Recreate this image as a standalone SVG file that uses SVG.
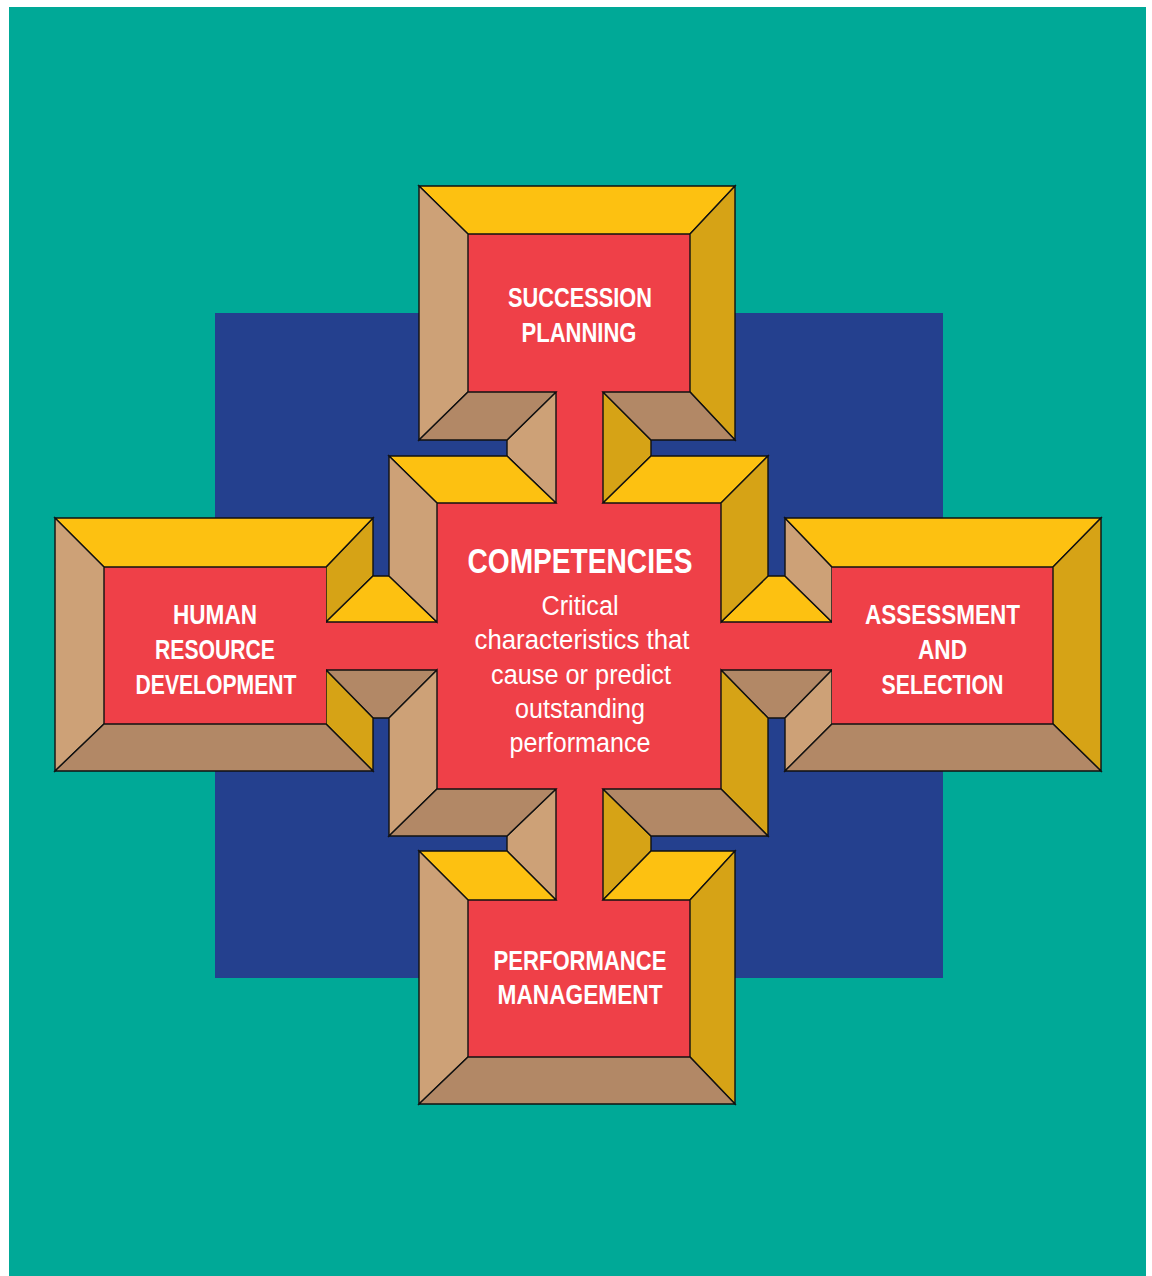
<svg xmlns="http://www.w3.org/2000/svg" width="1152" height="1276" viewBox="0 0 1152 1276">
<style>
.y{fill:#FDC111}
.t{fill:#CDA177}
.g{fill:#D6A316}
.b{fill:#B28866}
.r{fill:#EF4048}
.y,.t,.g,.b{stroke:#111;stroke-width:1.4;stroke-linejoin:miter}
.h{font-family:"Liberation Sans Narrow","Liberation Sans",Arial,sans-serif;font-weight:bold;font-size:28px;fill:#fff;text-anchor:middle}
.big{font-size:35px}
.d{font-family:"Liberation Sans Narrow","Liberation Sans",Arial,sans-serif;font-size:27px;fill:#fff;text-anchor:middle}
</style>
<rect x="9" y="7" width="1137" height="1269" fill="#00A997"/>
<rect x="215" y="313" width="728" height="665" fill="#24408E"/>

<g id="connectors">
  <rect class="r" x="556" y="390" width="47" height="115"/>
  <rect class="r" x="324" y="622" width="115" height="48"/>
  <rect class="r" x="719" y="622" width="115" height="48"/>
  <rect class="r" x="556" y="787" width="47" height="115"/>
  <polygon class="t" points="556,392 556,503 507,456 507,440"/>
  <polygon class="g" points="603,392 651,440 651,456 603,503"/>
  <polygon class="g" points="326,567 373,518 373,576 326,622"/>
  <polygon class="y" points="326,622 373,576 389,576 437,622"/>
  <polygon class="b" points="326,670 437,670 389,718 373,718"/>
  <polygon class="g" points="326,670 373,718 373,771 326,724"/>
  <polygon class="y" points="721,622 768,576 785,576 832,622"/>
  <polygon class="t" points="785,518 832,567 832,622 785,576"/>
  <polygon class="b" points="721,670 832,670 785,718 768,718"/>
  <polygon class="t" points="785,718 832,670 832,724 785,771"/>
  <polygon class="t" points="556,789 556,900 507,851 507,836"/>
  <polygon class="g" points="603,789 651,836 651,851 603,900"/>
</g>

<g id="succession-planning">
  <rect class="r" x="468" y="234" width="222" height="158"/>
  <polygon class="y" points="419,186 735,186 690,234 468,234"/>
  <polygon class="t" points="419,186 468,234 468,392 419,440"/>
  <polygon class="g" points="735,186 735,440 690,392 690,234"/>
  <polygon class="b" points="419,440 468,392 556,392 507,440"/>
  <polygon class="b" points="603,392 690,392 735,440 651,440"/>
  <text class="h" x="580" y="307" textLength="144" lengthAdjust="spacingAndGlyphs">SUCCESSION</text>
  <text class="h" x="579" y="342" textLength="115" lengthAdjust="spacingAndGlyphs">PLANNING</text>
</g>

<g id="competencies">
  <rect class="r" x="437" y="503" width="284" height="286"/>
  <polygon class="y" points="389,456 507,456 556,503 437,503"/>
  <polygon class="y" points="603,503 651,456 768,456 721,503"/>
  <polygon class="t" points="389,456 437,503 437,622 389,576"/>
  <polygon class="t" points="389,718 437,670 437,789 389,836"/>
  <polygon class="g" points="768,456 768,576 721,622 721,503"/>
  <polygon class="g" points="721,670 768,718 768,836 721,789"/>
  <polygon class="b" points="389,836 437,789 556,789 507,836"/>
  <polygon class="b" points="603,789 721,789 768,836 651,836"/>
  <text class="h big" x="580" y="573" textLength="225" lengthAdjust="spacingAndGlyphs">COMPETENCIES</text>
  <text class="d" x="580" y="615" textLength="77" lengthAdjust="spacingAndGlyphs">Critical</text>
  <text class="d" x="582" y="649" textLength="215" lengthAdjust="spacingAndGlyphs">characteristics that</text>
  <text class="d" x="581" y="684" textLength="180" lengthAdjust="spacingAndGlyphs">cause or predict</text>
  <text class="d" x="580" y="718" textLength="130" lengthAdjust="spacingAndGlyphs">outstanding</text>
  <text class="d" x="580" y="752" textLength="141" lengthAdjust="spacingAndGlyphs">performance</text>
</g>

<g id="human-resource-development">
  <rect class="r" x="104" y="567" width="222" height="157"/>
  <polygon class="y" points="55,518 373,518 326,567 104,567"/>
  <polygon class="t" points="55,518 104,567 104,724 55,771"/>
  <polygon class="b" points="55,771 104,724 326,724 373,771"/>
  <text class="h" x="215" y="624" textLength="84" lengthAdjust="spacingAndGlyphs">HUMAN</text>
  <text class="h" x="215" y="659" textLength="120" lengthAdjust="spacingAndGlyphs">RESOURCE</text>
  <text class="h" x="216" y="694" textLength="161" lengthAdjust="spacingAndGlyphs">DEVELOPMENT</text>
</g>

<g id="assessment-and-selection">
  <rect class="r" x="832" y="567" width="221" height="157"/>
  <polygon class="y" points="785,518 1101,518 1053,567 832,567"/>
  <polygon class="g" points="1101,518 1101,771 1053,724 1053,567"/>
  <polygon class="b" points="785,771 832,724 1053,724 1101,771"/>
  <text class="h" x="942.5" y="624" textLength="155" lengthAdjust="spacingAndGlyphs">ASSESSMENT</text>
  <text class="h" x="942.5" y="659" textLength="49" lengthAdjust="spacingAndGlyphs">AND</text>
  <text class="h" x="942.5" y="694" textLength="122" lengthAdjust="spacingAndGlyphs">SELECTION</text>
</g>

<g id="performance-management">
  <rect class="r" x="468" y="900" width="222" height="157"/>
  <polygon class="y" points="419,851 507,851 556,900 468,900"/>
  <polygon class="y" points="603,900 651,851 735,851 690,900"/>
  <polygon class="t" points="419,851 468,900 468,1057 419,1104"/>
  <polygon class="g" points="735,851 735,1104 690,1057 690,900"/>
  <polygon class="b" points="419,1104 468,1057 690,1057 735,1104"/>
  <text class="h" x="580" y="970" textLength="173" lengthAdjust="spacingAndGlyphs">PERFORMANCE</text>
  <text class="h" x="580" y="1004" textLength="165" lengthAdjust="spacingAndGlyphs">MANAGEMENT</text>
</g>
</svg>
